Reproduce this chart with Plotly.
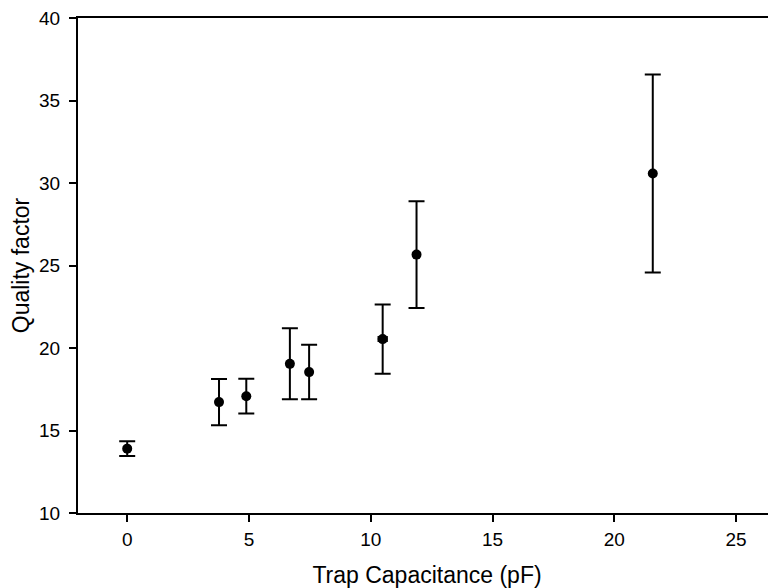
import plotly.graph_objects as go

# Data
capacitance = [0, 3.77, 4.89, 6.68, 7.47, 10.49, 11.88, 21.58]
quality = [13.9, 16.72, 17.08, 19.04, 18.54, 20.54, 25.66, 30.58]
quality_err = [0.45, 1.4, 1.05, 2.15, 1.65, 2.1, 3.24, 6.0]
capacitance_err = [0, 0.12, 0.12, 0.12, 0.12, 0.18, 0.12, 0.12]

x_ticks = [0, 5, 10, 15, 20, 25]
y_ticks = [10, 15, 20, 25, 30, 35, 40]

FONT = "Liberation Sans, Arial, sans-serif"

fig = go.Figure()
fig.add_trace(go.Scatter(
    x=capacitance, y=quality, mode="markers",
    marker=dict(color="black", size=10, symbol="circle"),
    error_y=dict(type="data", array=quality_err, visible=True,
                 color="black", thickness=2, width=8),
    error_x=dict(type="data", array=capacitance_err, visible=True,
                 color="black", thickness=1.5, width=3),
    showlegend=False,
))

# page has an 8px body margin, so the figure is sized to fit inside the window
fig.update_layout(
    width=768, height=580,
    margin=dict(l=70, r=0, t=10, b=75),
    paper_bgcolor="white", plot_bgcolor="white",
    font=dict(family=FONT, color="black", size=19),
    xaxis=dict(
        range=[-2.02, 26.64], tickvals=x_ticks, automargin=False,
        showgrid=False, zeroline=False,
        showline=True, linecolor="black", linewidth=2, mirror=True,
        ticks="outside", ticklen=7, tickwidth=2, tickcolor="black",
        tickfont=dict(size=19, family=FONT, color="black"),
        ticklabelstandoff=1, ticklabeloverflow="allow",
        title=dict(text="Trap Capacitance (pF)", font=dict(size=23, family=FONT, color="black"), standoff=20),
    ),
    yaxis=dict(
        range=[10, 40], tickvals=y_ticks, automargin=False,
        showgrid=False, zeroline=False,
        showline=True, linecolor="black", linewidth=2, mirror=False,
        ticks="outside", ticklen=7, tickwidth=2, tickcolor="black",
        tickfont=dict(size=19, family=FONT, color="black"),
        ticklabelstandoff=5, ticklabeloverflow="allow",
        title=dict(text="Quality factor", font=dict(size=23, family=FONT, color="black"), standoff=7),
    ),
)

fig.write_html("out.html")
